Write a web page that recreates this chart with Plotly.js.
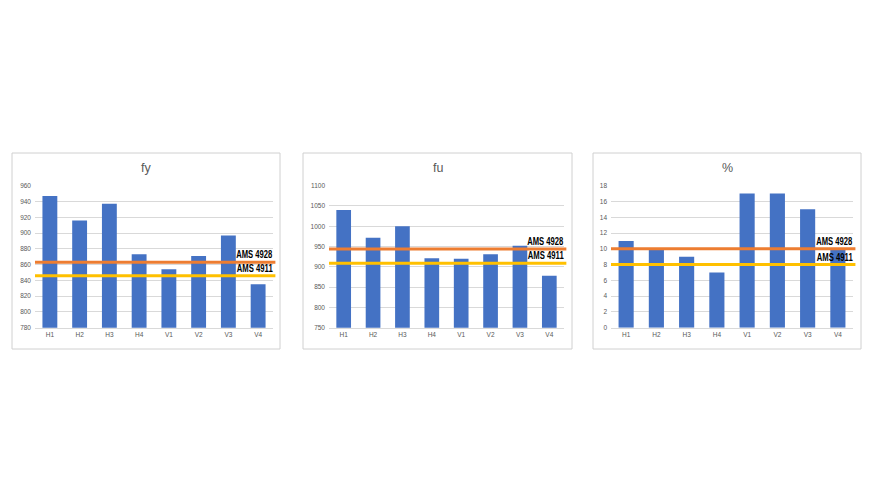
<!DOCTYPE html>
<html>
<head>
<meta charset="utf-8">
<script src="https://cdn.plot.ly/plotly-3.0.1.min.js"></script>
<style>html,body{margin:0;padding:0;background:#fff;}#chart{width:875px;height:500px;}</style>
</head>
<body>
<div id="chart"></div>
<script>
const categories = ["H1","H2","H3","H4","V1","V2","V3","V4"];
const fyValues = [947, 916, 937, 873, 854, 871, 897, 835];
const fuValues = [1040, 972, 1000, 921, 920, 931, 952, 878];
const elongValues = [11, 10, 9, 7, 17, 17, 15, 10];
const panelTitles = ["fy", "fu", "%"];
const ams4928 = [863, 944, 10];
const ams4911 = [846, 909, 8];
const lineLabels = ["AMS 4928", "AMS 4911"];
const yRanges = [[780, 960], [750, 1100], [0, 18]];
const yDticks = [20, 50, 2];

const seriesList = [fyValues, fuValues, elongValues];
const xDomains = [[35/875, 273/875], [329/875, 564/875], [611/875, 853/875]];
const boxes = [[12, 280], [303, 572], [593, 861]];
const yDomain = [1 - 327.7/500, 1 - 185.7/500];
const gray = "#595959";
const labelFont = "'Liberation Sans', Arial, sans-serif";

const traces = [];
const layout = {
  width: 875, height: 500,
  margin: {l: 0, r: 0, t: 0, b: 0},
  paper_bgcolor: "#fff", plot_bgcolor: "#fff",
  showlegend: false,
  bargap: 0.5,
  font: {family: "'Liberation Sans', Arial, sans-serif", color: gray},
  shapes: [], annotations: []
};

seriesList.forEach((vals, i) => {
  const n = i === 0 ? "" : String(i + 1);
  traces.push({
    type: "bar", x: categories, y: vals,
    xaxis: "x" + n, yaxis: "y" + n,
    marker: {color: "#4472C4"},
    hoverinfo: "x+y"
  });
  layout["xaxis" + n] = {
    domain: xDomains[i], anchor: "y" + n,
    showline: true, linecolor: "#d9d9d9", linewidth: 1,
    ticks: "", tickfont: {size: 6.5, color: gray},
    showgrid: false, fixedrange: true
  };
  layout["yaxis" + n] = {
    domain: yDomain, anchor: "x" + n,
    range: yRanges[i], dtick: yDticks[i], tick0: yRanges[i][0],
    showgrid: true, gridcolor: "#d9d9d9", gridwidth: 1,
    zeroline: false, showline: false, ticks: "",
    tickfont: {size: 6.5, color: gray}, ticklabelstandoff: 3, fixedrange: true
  };
  layout.shapes.push({
    type: "rect", xref: "paper", yref: "paper",
    x0: boxes[i][0]/875, x1: boxes[i][1]/875,
    y0: 1 - 349/500, y1: 1 - 153/500,
    line: {color: "#d0d0d0", width: 1}, fillcolor: "rgba(0,0,0,0)", layer: "below"
  });
  layout.annotations.push({
    text: panelTitles[i], xref: "paper", yref: "paper",
    x: (boxes[i][0] + boxes[i][1]) / 2 / 875, y: 1 - 168/500,
    xanchor: "center", yanchor: "middle", showarrow: false,
    font: {size: 12.5, color: gray}
  });
  const xr = "x" + n + " domain";
  const yr = "y" + n;
  [[ams4928[i], "#ED7D31", lineLabels[0]], [ams4911[i], "#FFC000", lineLabels[1]]].forEach(([v, c, lbl]) => {
    layout.shapes.push({
      type: "line", xref: xr, yref: yr, x0: 0, x1: 1.01, y0: v, y1: v,
      line: {color: c, width: 3}, layer: "above"
    });
    layout.annotations.push({
      text: "<b>" + lbl + "</b>", xref: xr, yref: yr, x: 1.01, y: v,
      xanchor: "right", yanchor: "bottom", align: "right", yshift: 0, showarrow: false,
      font: {size: 10, color: "#000", family: labelFont}
    });
  });
});

Plotly.newPlot("chart", traces, layout, {displayModeBar: false, staticPlot: true}).then(gd => {
  gd.querySelectorAll(".annotation-text").forEach(t => {
    if (t.textContent.indexOf("AMS") === 0) {
      t.setAttribute("textLength", "36");
      t.setAttribute("lengthAdjust", "spacingAndGlyphs");
    }
  });
});
</script>
</body>
</html>
